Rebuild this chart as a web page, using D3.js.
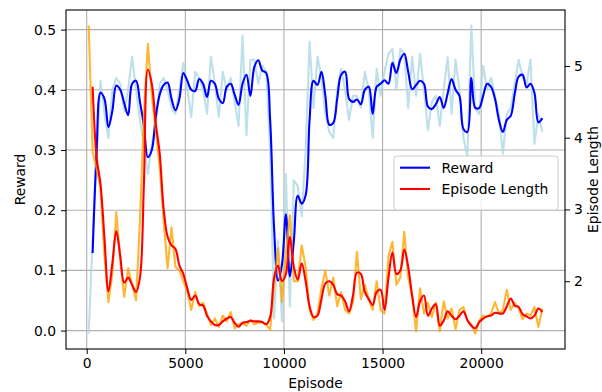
<!DOCTYPE html>
<html>
<head>
<meta charset="utf-8">
<script src="https://cdn.jsdelivr.net/npm/d3@7"></script>
<style>
  body { margin: 0; background: #fff; }
  svg { display: block; font-family: "DejaVu Sans", sans-serif; }
</style>
</head>
<body>
<div id="chart"></div>
<script>
// episodes: raw points start at 100, smoothed at 300, one point every 200 episodes
const rawStart = 100;
const smoothStart = 300;
const episodeStep = 200;

const rewardRaw = [
  -0.005, 0.150, 0.290, 0.415, 0.360, 0.320, 0.400, 0.420, 0.410, 0.365,
  0.400, 0.455, 0.400, 0.350, 0.310, 0.260, 0.310, 0.340, 0.410, 0.420,
  0.400, 0.370, 0.360, 0.400, 0.445, 0.400, 0.355, 0.430, 0.420, 0.400,
  0.360, 0.455, 0.410, 0.355, 0.430, 0.400, 0.420, 0.380, 0.340, 0.490,
  0.325, 0.450, 0.450, 0.410, 0.440, 0.430, 0.300, 0.020, 0.150, 0.015,
  0.260, 0.040, 0.250, 0.240, 0.190, 0.300, 0.480, 0.370, 0.455, 0.420,
  0.360, 0.330, 0.320, 0.400, 0.435, 0.400, 0.350, 0.390, 0.390, 0.370,
  0.430, 0.400, 0.320, 0.435, 0.390, 0.430, 0.460, 0.468, 0.400, 0.468,
  0.460, 0.370, 0.455, 0.390, 0.460, 0.400, 0.333, 0.380, 0.390, 0.340,
  0.400, 0.454, 0.360, 0.450, 0.400, 0.320, 0.290, 0.507, 0.370, 0.360,
  0.440, 0.400, 0.420, 0.390, 0.360, 0.294, 0.360, 0.370, 0.410, 0.450,
  0.420, 0.410, 0.450, 0.310, 0.360, 0.330
];

const rewardSmooth = [
  0.129, 0.295, 0.395, 0.385, 0.338, 0.365, 0.407, 0.400, 0.378, 0.358,
  0.410, 0.415, 0.380, 0.340, 0.288, 0.300, 0.355, 0.392, 0.408, 0.412,
  0.385, 0.366, 0.385, 0.428, 0.415, 0.400, 0.398, 0.418, 0.410, 0.388,
  0.415, 0.410, 0.385, 0.378, 0.405, 0.410, 0.392, 0.375, 0.410, 0.425,
  0.390, 0.438, 0.449, 0.432, 0.428, 0.350, 0.170, 0.083, 0.110, 0.193,
  0.090, 0.148, 0.224, 0.211, 0.225, 0.350, 0.415, 0.408, 0.430, 0.390,
  0.342, 0.345, 0.385, 0.425, 0.430, 0.385, 0.380, 0.384, 0.376, 0.400,
  0.405, 0.360, 0.405, 0.410, 0.416, 0.410, 0.445, 0.428, 0.450, 0.460,
  0.430, 0.401, 0.408, 0.415, 0.410, 0.372, 0.368, 0.376, 0.388, 0.370,
  0.394, 0.418, 0.400, 0.390, 0.335, 0.330, 0.420, 0.370, 0.370, 0.390,
  0.410, 0.405, 0.385, 0.350, 0.330, 0.350, 0.357, 0.393, 0.422, 0.425,
  0.404, 0.410, 0.395, 0.346, 0.353
];

const lengthRaw = [
  5.565, 3.80, 3.57, 3.30, 2.36, 1.71, 2.10, 2.965, 2.30, 1.78,
  2.18, 1.95, 1.735, 2.85, 4.31, 5.31, 4.60, 4.10, 3.60, 2.85,
  2.18, 2.75, 2.20, 2.15, 2.00, 1.85, 1.60, 1.85, 1.65, 1.70,
  1.55, 1.39, 1.48, 1.36, 1.52, 1.44, 1.57, 1.34, 1.40, 1.42,
  1.38, 1.46, 1.40, 1.42, 1.43, 1.40, 1.32, 1.94, 2.46, 1.71,
  2.40, 2.92, 2.00, 2.00, 2.50, 2.20, 1.60, 1.46, 1.55, 1.90,
  2.15, 1.80, 2.05, 1.65, 1.85, 1.60, 1.55, 1.70, 2.41, 1.75,
  1.95, 1.75, 1.60, 2.00, 1.60, 1.55, 2.35, 2.55, 1.95, 2.05,
  2.69, 2.05, 1.80, 1.30, 1.90, 1.55, 1.70, 1.50, 1.70, 1.30,
  1.72, 1.48, 1.62, 1.33, 1.60, 1.64, 1.45, 1.40, 1.27, 1.45,
  1.52, 1.50, 1.55, 1.71, 1.55, 1.60, 1.88, 1.60, 1.70, 1.62,
  1.47, 1.55, 1.52, 1.64, 1.36, 1.62
];

const lengthSmooth = [
  4.71, 3.73, 3.35, 2.60, 1.86, 2.25, 2.70, 2.35, 1.98, 2.05,
  1.95, 1.85, 2.05, 3.35, 4.95, 4.75, 4.20, 3.78, 3.01, 2.62,
  2.50, 2.45, 2.22, 2.10, 1.90, 1.74, 1.80, 1.68, 1.66, 1.52,
  1.44, 1.39, 1.39, 1.44, 1.48, 1.50, 1.42, 1.365, 1.42, 1.43,
  1.45, 1.44, 1.44, 1.43, 1.40, 1.50, 2.05, 2.22, 2.00, 2.10,
  2.62, 2.20, 2.02, 2.25, 2.00, 1.65, 1.50, 1.52, 1.75, 1.97,
  2.00, 1.95, 1.82, 1.80, 1.72, 1.58, 1.80, 2.12, 2.10, 1.85,
  1.75, 1.67, 1.85, 1.88, 1.60, 2.05, 2.40, 2.10, 2.15, 2.44,
  2.20, 1.80, 1.50, 1.72, 1.80, 1.52, 1.62, 1.68, 1.38, 1.45,
  1.58, 1.52, 1.47, 1.52, 1.58, 1.46, 1.38, 1.345, 1.43, 1.48,
  1.51, 1.52, 1.56, 1.55, 1.55, 1.65, 1.76, 1.66, 1.64, 1.54,
  1.51, 1.48, 1.52, 1.62, 1.57
];

const xTicks = [0, 5000, 10000, 15000, 20000];
const rewardTicks = [0, 0.1, 0.2, 0.3, 0.4, 0.5];
const lengthTicks = [2, 3, 4, 5];
const legendLabels = ["Reward", "Episode Length"];

const width = 602;
const height = 392;
const margin = {top: 10, right: 37, bottom: 43, left: 66};
const fontSize = 13.9;

const toPoints = (values, start) => values.map((v, i) => ({ep: start + i * episodeStep, v}));
const rewardRawPts = toPoints(rewardRaw, rawStart);
const rewardSmoothPts = toPoints(rewardSmooth, smoothStart);
const lengthRawPts = toPoints(lengthRaw, rawStart);
const lengthSmoothPts = toPoints(lengthSmooth, smoothStart);

// matplotlib-style 5% margins around the data
function padded(min, max) {
  const pad = (max - min) * 0.05;
  return [min - pad, max + pad];
}

const epExtent = d3.extent(rewardRawPts.concat(rewardSmoothPts), d => d.ep);
const rewardExtent = d3.extent(rewardRaw.concat(rewardSmooth));
const lengthExtent = d3.extent(lengthRaw.concat(lengthSmooth));

const x = d3.scaleLinear()
  .domain(padded(epExtent[0], epExtent[1]))
  .range([margin.left, width - margin.right]);

const yReward = d3.scaleLinear()
  .domain(padded(rewardExtent[0], rewardExtent[1]))
  .range([height - margin.bottom, margin.top]);

const yLength = d3.scaleLinear()
  .domain(padded(lengthExtent[0], lengthExtent[1]))
  .range([height - margin.bottom, margin.top]);

const svg = d3.select("#chart")
  .append("svg")
  .attr("width", width)
  .attr("height", height)
  .attr("viewBox", [0, 0, width, height]);

svg.append("defs").append("clipPath")
  .attr("id", "plot-clip")
  .append("rect")
  .attr("x", margin.left)
  .attr("y", margin.top)
  .attr("width", width - margin.left - margin.right)
  .attr("height", height - margin.top - margin.bottom);

// grid (left axis + x axis)
const grid = svg.append("g")
  .attr("stroke", "#b0b0b0")
  .attr("stroke-width", 1.1);

grid.selectAll("line.gx")
  .data(xTicks)
  .join("line")
  .attr("class", "gx")
  .attr("x1", d => x(d)).attr("x2", d => x(d))
  .attr("y1", margin.top).attr("y2", height - margin.bottom);

grid.selectAll("line.gy")
  .data(rewardTicks)
  .join("line")
  .attr("class", "gy")
  .attr("x1", margin.left).attr("x2", width - margin.right)
  .attr("y1", d => yReward(d)).attr("y2", d => yReward(d));

const plot = svg.append("g").attr("clip-path", "url(#plot-clip)");

const smoothCurve = d3.curveCatmullRom.alpha(0.5);
const rewardLine = d3.line().x(d => x(d.ep)).y(d => yReward(d.v));
const rewardSmoothLine = d3.line().x(d => x(d.ep)).y(d => yReward(d.v)).curve(smoothCurve);
const lengthLine = d3.line().x(d => x(d.ep)).y(d => yLength(d.v));
const lengthSmoothLine = d3.line().x(d => x(d.ep)).y(d => yLength(d.v)).curve(smoothCurve);

function drawLine(data, gen, color, opacity) {
  plot.append("path")
    .datum(data)
    .attr("d", gen)
    .attr("fill", "none")
    .attr("stroke", color)
    .attr("stroke-opacity", opacity)
    .attr("stroke-width", 2.1)
    .attr("stroke-linejoin", "round");
}

drawLine(rewardRawPts, rewardLine, "#add8e6", 0.8);
drawLine(rewardSmoothPts, rewardSmoothLine, "#0000ff", 1);
drawLine(lengthRawPts, lengthLine, "#ffa500", 0.8);
drawLine(lengthSmoothPts, lengthSmoothLine, "#ff0000", 1);

// axes
function styleAxis(g) {
  g.select(".domain").remove();
  g.selectAll(".tick line").attr("stroke", "#000").attr("stroke-width", 1);
  g.selectAll(".tick text")
    .attr("fill", "#000")
    .style("font-size", fontSize + "px")
    .style("font-family", "DejaVu Sans, sans-serif");
}

svg.append("g")
  .attr("transform", `translate(0,${height - margin.bottom})`)
  .call(d3.axisBottom(x).tickValues(xTicks).tickFormat(d3.format("d")).tickSize(5).tickPadding(4))
  .call(styleAxis);

svg.append("g")
  .attr("transform", `translate(${margin.left},0)`)
  .call(d3.axisLeft(yReward).tickValues(rewardTicks).tickFormat(d3.format(".1f")).tickSize(5).tickPadding(5))
  .call(styleAxis);

svg.append("g")
  .attr("transform", `translate(${width - margin.right},0)`)
  .call(d3.axisRight(yLength).tickValues(lengthTicks).tickFormat(d3.format("d")).tickSize(5).tickPadding(4))
  .call(styleAxis);

// frame
svg.append("rect")
  .attr("x", margin.left)
  .attr("y", margin.top)
  .attr("width", width - margin.left - margin.right)
  .attr("height", height - margin.top - margin.bottom)
  .attr("fill", "none")
  .attr("stroke", "#000")
  .attr("stroke-width", 1.1);

// axis labels
svg.append("text")
  .attr("x", (margin.left + width - margin.right) / 2)
  .attr("y", 388)
  .attr("text-anchor", "middle")
  .style("font-size", fontSize + "px")
  .text("Episode");

svg.append("text")
  .attr("transform", `translate(25,${(margin.top + height - margin.bottom) / 2}) rotate(-90)`)
  .attr("text-anchor", "middle")
  .style("font-size", fontSize + "px")
  .text("Reward");

svg.append("text")
  .attr("transform", `translate(598,${(margin.top + height - margin.bottom) / 2}) rotate(-90)`)
  .attr("text-anchor", "middle")
  .style("font-size", fontSize + "px")
  .text("Episode Length");

// legend
const legend = svg.append("g").attr("transform", "translate(394,156)");
legend.append("rect")
  .attr("width", 164)
  .attr("height", 54)
  .attr("rx", 3)
  .attr("fill", "#fff")
  .attr("fill-opacity", 0.8)
  .attr("stroke", "#cccccc")
  .attr("stroke-width", 1);

const items = legend.selectAll("g.item")
  .data(legendLabels.map((label, i) => ({label, color: ["#0000ff", "#ff0000"][i]})))
  .join("g")
  .attr("class", "item")
  .attr("transform", (d, i) => `translate(0,${11.7 + i * 21.3})`);

items.append("line")
  .attr("x1", 6).attr("x2", 36)
  .attr("stroke", d => d.color)
  .attr("stroke-width", 2.1);

items.append("text")
  .attr("x", 47.5)
  .attr("y", 5)
  .style("font-size", fontSize + "px")
  .text(d => d.label);
</script>
</body>
</html>
